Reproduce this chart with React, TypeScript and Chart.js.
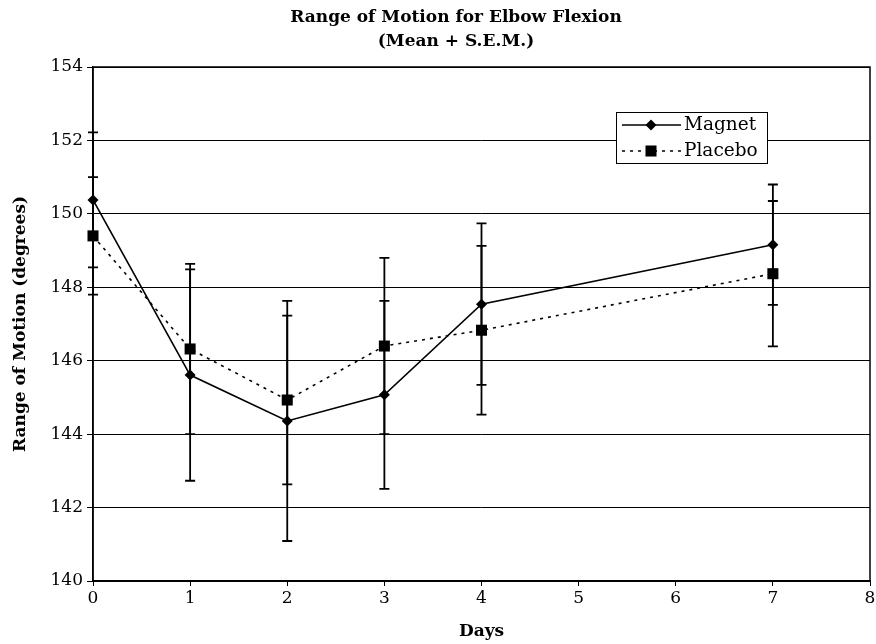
import { useEffect, useRef } from "react";
import { Chart, registerables } from "chart.js";

Chart.register(...registerables);

const titleLines = ["Range of Motion for Elbow Flexion", "(Mean + S.E.M.)"];
const xAxisTitle = "Days";
const yAxisTitle = "Range of Motion (degrees)";
const seriesNames = ["Magnet", "Placebo"];
const days = [0, 1, 2, 3, 4, 7];
const magnetMean = [150.38, 145.61, 144.36, 145.07, 147.54, 149.16];
const magnetSem = [1.84, 2.88, 3.27, 2.56, 2.2, 1.64];
const placeboMean = [149.4, 146.32, 144.93, 146.4, 146.83, 148.37];
const placeboSem = [1.6, 2.32, 2.3, 2.4, 2.3, 1.98];
const yMin = 140;
const yMax = 154;
const yStep = 2;
const xMin = 0;
const xMax = 8;
const xStep = 1;

const FONT = "'DejaVu Serif', serif";

export default function App() {
  const ref = useRef<HTMLCanvasElement>(null);

  useEffect(() => {
    const canvas = ref.current;
    if (!canvas) return;
    const sems = [magnetSem, placeboSem];

    const errorBars = {
      id: "errorBars",
      beforeDatasetsDraw(chart: any) {
        const { ctx } = chart;
        const xs = chart.scales.x;
        const ys = chart.scales.y;
        ctx.save();
        ctx.strokeStyle = "#000";
        ctx.lineWidth = 1.8;
        chart.data.datasets.forEach((ds: any, i: number) => {
          ds.data.forEach((p: any, j: number) => {
            const s = sems[i][j];
            const x = xs.getPixelForValue(p.x);
            const y1 = ys.getPixelForValue(p.y + s);
            const y2 = ys.getPixelForValue(p.y - s);
            ctx.beginPath();
            ctx.moveTo(x, y1);
            ctx.lineTo(x, y2);
            ctx.moveTo(x - 5, y1);
            ctx.lineTo(x + 5, y1);
            ctx.moveTo(x - 5, y2);
            ctx.lineTo(x + 5, y2);
            ctx.stroke();
          });
        });
        ctx.restore();
      },
    };

    const frame = {
      id: "frame",
      beforeDatasetsDraw(chart: any) {
        const { ctx, chartArea: a } = chart;
        ctx.save();
        ctx.strokeStyle = "#000";
        ctx.lineWidth = 1.5;
        ctx.strokeRect(a.left, a.top, a.right - a.left, a.bottom - a.top);
        ctx.restore();
      },
    };

    // x tick labels drawn from the scale's own ticks (keeps the plot edge free of label padding)
    const xLabels = {
      id: "xLabels",
      afterDraw(chart: any) {
        const { ctx, chartArea: a } = chart;
        const xs = chart.scales.x;
        ctx.save();
        ctx.fillStyle = "#000";
        ctx.font = `17px ${FONT}`;
        ctx.textAlign = "center";
        ctx.textBaseline = "middle";
        xs.ticks.forEach((t: any) => {
          ctx.fillText(String(t.value), xs.getPixelForValue(t.value), a.bottom + 18);
        });
        ctx.restore();
      },
    };

    const titlePlugin = {
      id: "customTitle",
      afterDraw(chart: any) {
        const { ctx } = chart;
        ctx.save();
        ctx.fillStyle = "#000";
        ctx.font = `bold 17px ${FONT}`;
        ctx.textAlign = "center";
        ctx.textBaseline = "middle";
        titleLines.forEach((t, i) => ctx.fillText(t, 456, 18 + i * 24));
        ctx.restore();
      },
    };

    const legendPlugin = {
      id: "customLegend",
      afterDraw(chart: any) {
        const { ctx } = chart;
        const bx = 616.5, by = 112.5, bw = 151, bh = 51;
        ctx.save();
        ctx.fillStyle = "#fff";
        ctx.fillRect(bx, by, bw, bh);
        ctx.strokeStyle = "#000";
        ctx.lineWidth = 1;
        ctx.strokeRect(bx, by, bw, bh);
        chart.data.datasets.forEach((ds: any, i: number) => {
          const y = 125 + i * 26;
          ctx.beginPath();
          ctx.setLineDash(ds.borderDash || []);
          ctx.lineWidth = ds.borderWidth;
          ctx.moveTo(622, y);
          ctx.lineTo(681, y);
          ctx.stroke();
          ctx.setLineDash([]);
          ctx.fillStyle = "#000";
          const cx = 651;
          ctx.beginPath();
          if (ds.pointStyle === "rectRot") {
            const r = ds.pointRadius;
            ctx.moveTo(cx, y - r);
            ctx.lineTo(cx + r, y);
            ctx.lineTo(cx, y + r);
            ctx.lineTo(cx - r, y);
            ctx.closePath();
          } else {
            const h = ds.pointRadius * Math.SQRT1_2;
            ctx.rect(cx - h, y - h, 2 * h, 2 * h);
          }
          ctx.fill();
          ctx.font = `18.5px ${FONT}`;
          ctx.textAlign = "left";
          ctx.textBaseline = "middle";
          ctx.fillText(ds.label, 684, y);
        });
        ctx.restore();
      },
    };

    const chart = new Chart(canvas, {
      type: "scatter",
      data: {
        datasets: [
          {
            label: seriesNames[0],
            data: days.map((d, i) => ({ x: d, y: magnetMean[i] })),
            showLine: true,
            borderColor: "#000",
            backgroundColor: "#000",
            borderWidth: 1.6,
            pointStyle: "rectRot",
            pointRadius: 5.5,
            pointBorderWidth: 0,
            clip: false,
          },
          {
            label: seriesNames[1],
            data: days.map((d, i) => ({ x: d, y: placeboMean[i] })),
            showLine: true,
            borderColor: "#000",
            backgroundColor: "#000",
            borderWidth: 1.6,
            borderDash: [3, 5],
            pointStyle: "rect",
            pointRadius: 7.8,
            pointBorderWidth: 0,
            clip: false,
          },
        ] as any,
      },
      options: {
        responsive: false,
        devicePixelRatio: 1,
        animation: false,
        events: [],
        layout: { autoPadding: false, padding: { left: 0, right: 6, top: 67, bottom: 0 } },
        plugins: {
          legend: { display: false },
          title: { display: false },
          tooltip: { enabled: false },
        },
        scales: {
          x: {
            type: "linear",
            min: xMin,
            max: xMax,
            ticks: {
              stepSize: xStep,
              display: false,
            },
            grid: {
              drawOnChartArea: false,
              drawTicks: true,
              tickLength: 5,
              color: "#000",
            },
            border: { color: "#000", width: 1.5 },
            title: {
              display: true,
              text: xAxisTitle,
              color: "#000",
              font: { family: FONT, size: 17, weight: "bold" },
              padding: { top: 0, bottom: 2 },
            },
            afterFit(s: any) {
              s.height = 63;
              s.paddingLeft = 0;
              s.paddingRight = 0;
            },
          } as any,
          y: {
            min: yMin,
            max: yMax,
            ticks: {
              stepSize: yStep,
              color: "#000",
              font: { family: FONT, size: 17 },
              padding: 4,
            },
            grid: {
              color: "#000",
              lineWidth: 1,
              drawTicks: true,
              tickLength: 6,
            },
            border: { color: "#000", width: 1.5 },
            title: {
              display: true,
              text: yAxisTitle,
              color: "#000",
              font: { family: FONT, size: 17, weight: "bold" },
              padding: { top: 10, bottom: 0 },
            },
            afterFit(s: any) {
              s.width = 93;
            },
          } as any,
        },
      },
      plugins: [frame, errorBars, xLabels, titlePlugin, legendPlugin],
    });
    return () => chart.destroy();
  }, []);

  return (
    <div style={{ position: "absolute", left: 0, top: 0, width: 876, height: 644, background: "#fff" }}>
      <canvas ref={ref} width={876} height={644} />
    </div>
  );
}
